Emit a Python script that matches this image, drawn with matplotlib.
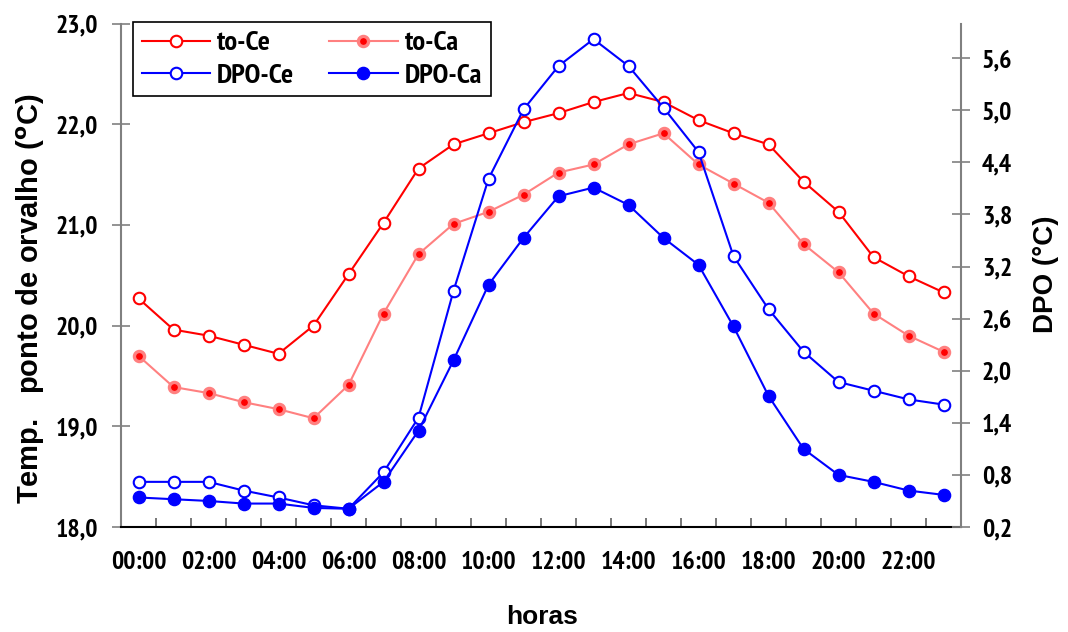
import matplotlib
matplotlib.use("Agg")
import matplotlib.pyplot as plt
from matplotlib import font_manager as fm
from matplotlib import patheffects as pe
from matplotlib.ticker import FixedLocator, NullFormatter, FixedFormatter

hours = ["00:00", "01:00", "02:00", "03:00", "04:00", "05:00", "06:00", "07:00",
         "08:00", "09:00", "10:00", "11:00", "12:00", "13:00", "14:00", "15:00",
         "16:00", "17:00", "18:00", "19:00", "20:00", "21:00", "22:00", "23:00"]

to_ce = [20.27, 19.96, 19.90, 19.81, 19.72, 20.00, 20.51, 21.02, 21.56, 21.80, 21.91, 22.02,
         22.11, 22.22, 22.31, 22.22, 22.04, 21.91, 21.80, 21.43, 21.13, 20.68, 20.49, 20.33]
to_ca = [19.70, 19.39, 19.33, 19.24, 19.17, 19.08, 19.41, 20.12, 20.71, 21.01, 21.13, 21.30,
         21.52, 21.60, 21.80, 21.91, 21.60, 21.41, 21.22, 20.81, 20.53, 20.12, 19.90, 19.74]
dpo_ce = [0.72, 0.72, 0.72, 0.62, 0.54, 0.45, 0.41, 0.83, 1.46, 2.92, 4.21, 5.01,
          5.51, 5.82, 5.51, 5.03, 4.52, 3.32, 2.71, 2.22, 1.87, 1.77, 1.67, 1.61]
dpo_ca = [0.54, 0.52, 0.50, 0.47, 0.47, 0.42, 0.41, 0.72, 1.31, 2.12, 2.99, 3.53,
          4.01, 4.11, 3.91, 3.53, 3.22, 2.51, 1.71, 1.10, 0.80, 0.72, 0.62, 0.57]

left_ticks = [18.0, 19.0, 20.0, 21.0, 22.0, 23.0]
right_ticks = [0.2, 0.8, 1.4, 2.0, 2.6, 3.2, 3.8, 4.4, 5.0, 5.6]


def _w(f):
    w = f.weight
    if isinstance(w, str):
        return 700 if "bold" in w.lower() else 400
    return int(w)


entries = fm.fontManager.ttflist
names = {f.name for f in entries}
candidates = ["Liberation Sans Narrow", "Arial Narrow", "Archivo Narrow", "PT Sans Narrow",
              "Roboto Condensed", "Fira Sans Condensed", "IBM Plex Sans Condensed",
              "Encode Sans Condensed", "Asap Condensed", "Barlow Semi Condensed",
              "Open Sans Condensed", "Pragati Narrow"]
narrow, fake_bold = None, False
for cand in candidates:
    if any(f.name == cand and _w(f) >= 600 for f in entries):
        narrow = cand
        break
if narrow is None:
    for cand in candidates:
        if cand in names:
            narrow, fake_bold = cand, True
            break
if narrow is None:
    narrow = "Liberation Sans"
regular = "Liberation Sans" if "Liberation Sans" in names else "DejaVu Sans"
effects = [pe.withStroke(linewidth=0.9, foreground="black")] if fake_bold else []

fig = plt.figure(figsize=(10.68, 6.32), dpi=100)
ax = fig.add_axes([121 / 1068, 1 - 527 / 632, (961 - 121) / 1068, (527 - 23.5) / 632])
ax2 = ax.twinx()

x = list(range(len(hours)))
RED = "#FF0000"
PINK = "#FF8080"
BLUE = "#0000FF"

l1, = ax.plot(x, to_ce, color=RED, lw=1.5, marker="o", ms=8.3, mfc="white", mec=RED, mew=1.5,
              label="to-Ce", zorder=3)
l2, = ax.plot(x, to_ca, color=PINK, lw=1.5, marker="o", ms=7.3, mfc=RED, mec=PINK, mew=2.4,
              label="to-Ca", zorder=3)
l3, = ax2.plot(x, dpo_ce, color=BLUE, lw=1.5, marker="o", ms=8.3, mfc="white", mec=BLUE, mew=1.5,
               label="DPO-Ce", zorder=3)
l4, = ax2.plot(x, dpo_ca, color=BLUE, lw=1.5, marker="o", ms=8.8, mfc=BLUE, mec=BLUE, mew=1.0,
               label="DPO-Ca", zorder=3)

ax.set_xlim(-0.5, len(hours) - 0.5)
ax.set_ylim(18.0, 23.0)
ax2.set_ylim(0.2, 6.0)

# x axis: ticks at category boundaries, labels every 2 categories at centres
ax.xaxis.set_major_locator(FixedLocator([i - 0.5 for i in range(1, len(hours) + 1)]))
ax.xaxis.set_major_formatter(NullFormatter())
ax.xaxis.set_minor_locator(FixedLocator(x[::2]))
ax.xaxis.set_minor_formatter(FixedFormatter(hours[::2]))
ax.tick_params(axis="x", which="major", direction="in", length=6.5, width=1.2, color="#606060")
ax.tick_params(axis="x", which="minor", length=0, pad=17)

ax.set_yticks(left_ticks)
ax.set_yticklabels([f"{v:.1f}".replace(".", ",") for v in left_ticks])
ax.tick_params(axis="y", direction="inout", length=13, width=1.2, color="#808080", pad=10)
ax2.set_yticks(right_ticks)
ax2.set_yticklabels([f"{v:.1f}".replace(".", ",") for v in right_ticks])
ax2.tick_params(axis="y", direction="inout", length=13, width=1.2, color="#808080", pad=8.5)

for a in (ax, ax2):
    a.spines["top"].set_visible(False)
for lab in ax.get_xticklabels(minor=True) + ax.get_yticklabels() + ax2.get_yticklabels():
    lab.set_fontfamily(narrow)
    lab.set_fontweight("bold")
    lab.set_fontsize(18.5)
    lab.set_path_effects(effects)

ax.spines["left"].set_color("#808080")
ax.spines["left"].set_linewidth(1.5)
ax2.spines["left"].set_visible(False)
ax2.spines["right"].set_color("#808080")
ax2.spines["right"].set_linewidth(1.5)
ax2.spines["bottom"].set_visible(False)
ax.spines["right"].set_visible(False)
ax.spines["bottom"].set_color("black")
ax.spines["bottom"].set_linewidth(1.5)

fig.text(31 / 1068, 1 - 299 / 632, "Temp.   ponto de orvalho ($^{\\mathbf{o}}$C)", rotation=90,
         ha="center", va="center", fontsize=21, fontweight="bold", family=regular)
fig.text(1046 / 1068, 1 - 274 / 632, "DPO (°C)", rotation=90, ha="center", va="center",
         fontsize=20, fontweight="bold", family=regular)
fig.text(542 / 1068, 1 - 617 / 632, "horas", ha="center", va="center", fontsize=19,
         fontweight="bold", family=regular)

leg = ax2.legend(handles=[l1, l3, l2, l4], ncol=2, loc="upper left",
                 bbox_to_anchor=(133 / 1068, 1 - 22 / 632), bbox_transform=fig.transFigure,
                 frameon=True, fancybox=False, edgecolor="black", framealpha=1,
                 prop={"family": narrow, "weight": "bold", "size": 20.5},
                 handlelength=2.4, handletextpad=0.25, columnspacing=1.23, labelspacing=0.26,
                 borderpad=0.3, borderaxespad=0)
leg.get_frame().set_linewidth(1.2)
leg.set_zorder(10)
for t in leg.get_texts():
    t.set_path_effects(effects)

fig.savefig("out.png", dpi=100)
